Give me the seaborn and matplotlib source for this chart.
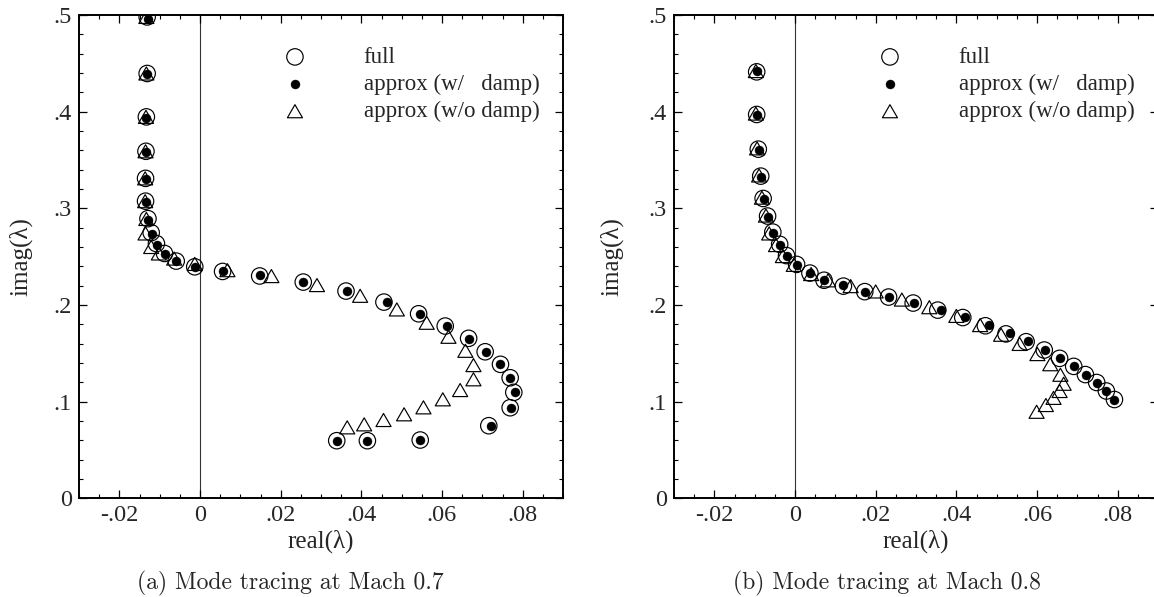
import numpy as np
import pandas as pd
import matplotlib
matplotlib.use("Agg")
import matplotlib.pyplot as plt
import matplotlib.path as mpath
from matplotlib.ticker import FixedLocator, MultipleLocator, FuncFormatter
import seaborn as sns

# ---------------- data ----------------
# Mach 0.7 -- full model
a_full_re = [-0.0131, -0.0131, -0.0133, -0.0134, -0.0135, -0.0135, -0.0129, -0.0121,
             -0.0108, -0.0088, -0.0059, -0.0013, 0.0056, 0.0148, 0.0256, 0.0362,
             0.0456, 0.0542, 0.0608, 0.0666, 0.0707, 0.0745, 0.0769, 0.0778,
             0.0769, 0.0716, 0.0546, 0.0415, 0.0339]
a_full_im = [0.498, 0.4395, 0.3946, 0.359, 0.331, 0.3074, 0.2893, 0.2748,
             0.2635, 0.2533, 0.2454, 0.2395, 0.2347, 0.2300, 0.2237, 0.2144,
             0.2030, 0.1909, 0.1782, 0.1655, 0.1516, 0.1386, 0.1247, 0.1096,
             0.0937, 0.0751, 0.0603, 0.0596, 0.0596]
# Mach 0.7 -- approx (with damping)
a_wd_re = [-0.0129, -0.0131, -0.0133, -0.0134, -0.0135, -0.0135, -0.0128, -0.0120,
           -0.0107, -0.0087, -0.0059, -0.0013, 0.0056, 0.0148, 0.0256, 0.0365,
           0.0463, 0.0546, 0.0612, 0.0668, 0.0709, 0.0745, 0.0769, 0.0780,
           0.0771, 0.0722, 0.0546, 0.0415, 0.0339]
a_wd_im = [0.496, 0.4385, 0.3935, 0.358, 0.330, 0.3065, 0.2883, 0.2738,
           0.2625, 0.2525, 0.2450, 0.2395, 0.2347, 0.2305, 0.2237, 0.2144,
           0.2030, 0.1909, 0.1782, 0.1650, 0.1516, 0.1386, 0.1247, 0.1096,
           0.0937, 0.0751, 0.0603, 0.0596, 0.0596]
# Mach 0.7 -- approx (without damping)
a_nd_re = [-0.0133, -0.0133, -0.0134, -0.0135, -0.0136, -0.0136, -0.0133, -0.0135,
           -0.0121, -0.0102, -0.0064, -0.0013, 0.0068, 0.0177, 0.0290, 0.0397,
           0.0488, 0.0562, 0.0616, 0.0658, 0.0678, 0.0678, 0.0645, 0.0602,
           0.0554, 0.0506, 0.0455, 0.0407, 0.0365]
a_nd_im = [0.498, 0.4395, 0.3946, 0.359, 0.331, 0.3074, 0.2890, 0.2740,
           0.2600, 0.2533, 0.2480, 0.2425, 0.2360, 0.2299, 0.2206, 0.2095,
           0.1954, 0.1816, 0.1671, 0.1526, 0.1378, 0.1231, 0.1120, 0.1024,
           0.0941, 0.0869, 0.0810, 0.0765, 0.0734]

# Mach 0.8 -- full model
b_full_re = [-0.0095, -0.0095, -0.0091, -0.0085, -0.0079, -0.0068, -0.0055, -0.0038,
             -0.0021, 0.0004, 0.0037, 0.0072, 0.0120, 0.0173, 0.0232, 0.0293,
             0.0354, 0.0416, 0.0472, 0.0523, 0.0573, 0.0618, 0.0656, 0.0691,
             0.0720, 0.0748, 0.0772, 0.0792]
b_full_im = [0.4412, 0.3971, 0.3612, 0.3333, 0.3102, 0.2920, 0.2754, 0.2628,
             0.2511, 0.2420, 0.2330, 0.2256, 0.2195, 0.2138, 0.2082, 0.2020,
             0.1947, 0.1870, 0.1785, 0.1701, 0.1620, 0.1534, 0.1448, 0.1365,
             0.1280, 0.1198, 0.1110, 0.1022]
# Mach 0.8 -- approx (with damping)
b_wd_re = [-0.0093, -0.0094, -0.0090, -0.0084, -0.0078, -0.0068, -0.0055, -0.0038,
           -0.0021, 0.0004, 0.0036, 0.0072, 0.0120, 0.0173, 0.0234, 0.0295,
           0.0362, 0.0422, 0.0480, 0.0532, 0.0577, 0.0619, 0.0658, 0.0691,
           0.0721, 0.0749, 0.0772, 0.0792]
b_wd_im = [0.4420, 0.3965, 0.3605, 0.3325, 0.3095, 0.2912, 0.2748, 0.2620,
           0.2505, 0.2415, 0.2335, 0.2256, 0.2205, 0.2138, 0.2085, 0.2017,
           0.1947, 0.1878, 0.1792, 0.1706, 0.1627, 0.1537, 0.1450, 0.1365,
           0.1280, 0.1198, 0.1110, 0.1022]
# Mach 0.8 -- approx (without damping)
b_nd_re = [-0.0097, -0.0097, -0.0094, -0.0089, -0.0082, -0.0072, -0.0064, -0.0047,
           -0.0030, -0.0003, 0.0040, 0.0082, 0.0138, 0.0200, 0.0265, 0.0333,
           0.0400, 0.0459, 0.0511, 0.0557, 0.0601, 0.0633, 0.0658, 0.0666,
           0.0656, 0.0641, 0.0622, 0.0599]
b_nd_im = [0.4420, 0.3980, 0.3620, 0.3340, 0.3110, 0.2925, 0.2740, 0.2620,
           0.2506, 0.2415, 0.2320, 0.2255, 0.2195, 0.2140, 0.2056, 0.1977,
           0.1887, 0.1792, 0.1692, 0.1597, 0.1492, 0.1387, 0.1278, 0.1185,
           0.1110, 0.1039, 0.0965, 0.0895]

labels = ["full", "approx (w/   damp)", "approx (w/o damp)"]
captions = ["(a) Mode tracing at Mach 0.7", "(b) Mode tracing at Mach 0.8"]
x_label = "real(\u03bb)"
y_label = "imag(\u03bb)"

# ---------------- styling ----------------
sns.set_style("ticks")
plt.rcParams["font.family"] = ["Liberation Serif", "DejaVu Serif"]

W, H = 1154, 597
fig = plt.figure(figsize=(W / 100, H / 100), dpi=100)

tri = mpath.Path([(-1.0, -0.866), (1.0, -0.866), (0.0, 0.866), (-1.0, -0.866)],
                 [1, 2, 2, 79])

def fmt_x(v, pos):
    if abs(v) < 1e-9:
        return "0"
    return f"{v:.2f}".replace("0.", ".")

def fmt_y(v, pos):
    if abs(v) < 1e-9:
        return "0"
    return f"{v:.1f}".replace("0.", ".")

panels = [
    (79, a_full_re, a_full_im, a_wd_re, a_wd_im, a_nd_re, a_nd_im, captions[0], 290, -0.1198),
    (674, b_full_re, b_full_im, b_wd_re, b_wd_im, b_nd_re, b_nd_im, captions[1], 887, -0.128),
]

ax_w = 484.0
ax_top, ax_bot = 15.0, 498.3
for (left, fr, fi, wr, wi, nr, ni, cap, capx, ylx) in panels:
    ax = fig.add_axes([left / W, 1 - ax_bot / H, ax_w / W, (ax_bot - ax_top) / H])
    ax.axvline(0, color="#333333", lw=0.8, zorder=0.5)

    sns.scatterplot(x=fr, y=fi, marker="o", s=140, color="black", facecolor="none",
                    edgecolor="black", linewidth=0.85, label=labels[0], ax=ax, zorder=2)
    sns.scatterplot(x=wr, y=wi, marker="o", s=42, color="black", facecolor="black",
                    edgecolor="black", linewidth=0.3, label=labels[1], ax=ax, zorder=3)
    sns.scatterplot(x=nr, y=ni, marker=tri, s=118, color="black", facecolor="none",
                    edgecolor="black", linewidth=0.85, label=labels[2], ax=ax, zorder=4)

    ax.set_xlim(-0.03, 0.09)
    ax.set_ylim(0, 0.5)
    ax.xaxis.set_major_locator(FixedLocator([-0.02, 0, 0.02, 0.04, 0.06, 0.08]))
    ax.xaxis.set_minor_locator(MultipleLocator(0.005))
    ax.yaxis.set_major_locator(FixedLocator([0, 0.1, 0.2, 0.3, 0.4, 0.5]))
    ax.yaxis.set_minor_locator(MultipleLocator(0.02))
    ax.xaxis.set_major_formatter(FuncFormatter(fmt_x))
    ax.yaxis.set_major_formatter(FuncFormatter(fmt_y))
    ax.tick_params(which="both", direction="in", top=True, right=True, color="black")
    ax.tick_params(which="major", length=6, width=0.9, labelsize=17.5)
    ax.tick_params(which="minor", length=3, width=0.8)
    ax.tick_params(axis="x", which="major", pad=4.5)
    ax.tick_params(axis="y", which="major", pad=5)
    for sp in ax.spines.values():
        sp.set_linewidth(1.4)
        sp.set_color("black")

    ax.set_xlabel(x_label, fontsize=18, va="center")
    ax.xaxis.set_label_coords(0.5, (ax_bot - 541) / (ax_bot - ax_top))
    ax.set_ylabel(y_label, fontsize=18, va="center")
    ax.yaxis.set_label_coords(ylx, 0.5)

    ax.legend(loc="upper left", bbox_to_anchor=(0.4225, 0.934), frameon=False,
              fontsize=16.5, handlelength=1.0, handletextpad=2.5, borderpad=0,
              borderaxespad=0, labelspacing=0.26, scatterpoints=1)

    fig.text(capx / W, 1 - 589.3 / H, cap, ha="center", va="baseline",
             fontsize=17, family="cmr10")

fig.savefig("out.png", dpi=100)
